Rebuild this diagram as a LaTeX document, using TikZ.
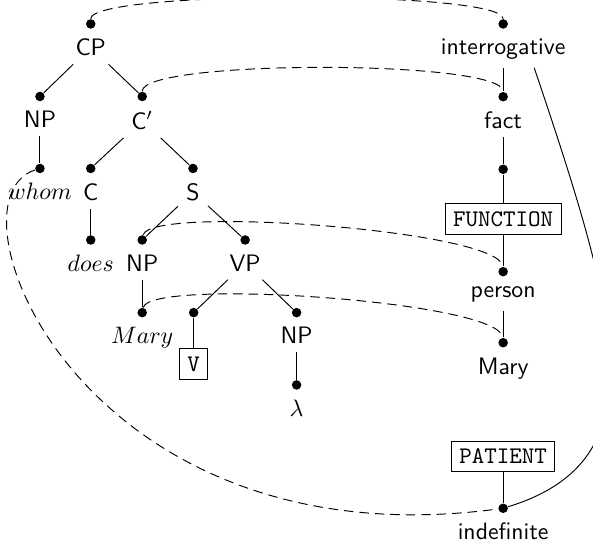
\documentclass[tikz,border=0pt]{standalone}
\usepackage{tikz}
\usetikzlibrary{arrows, positioning, shapes}

\begin{document}
\begin{tikzpicture}[
	-,
	thin,
	dot/.style={circle,fill,inner sep=0pt,minimum size=4pt},
	lab/.style={font=\sffamily},
	feat/.style={draw,font=\ttfamily},
	link/.style={dash pattern=on 4pt off 2.5pt}
]
\useasboundingbox (0,0) rectangle (8.757,-8.004);

% tree
\node[dot] (cp)    at (1.34,-0.354) {};
\node[dot] (np)    at (0.59,-1.425) {};
\node[dot] (cbar)  at (2.10,-1.425) {};
\node[dot] (whom)  at (0.59,-2.488) {};
\node[dot] (c)     at (1.34,-2.488) {};
\node[dot] (s)     at (2.85,-2.488) {};
\node[dot] (does)  at (1.34,-3.544) {};
\node[dot] (npsub) at (2.10,-3.544) {};
\node[dot] (vp)    at (3.62,-3.544) {};
\node[dot] (mary)  at (2.10,-4.617) {};
\node[dot] (vd)    at (2.86,-4.617) {};
\node[dot] (npobj) at (4.38,-4.617) {};
\node[dot] (lam)   at (4.38,-5.685) {};

\node[lab] (cpl)    [below=0.5pt of cp]    {CP};
\node[lab] (npl)    [below=0.5pt of np]    {NP};
\node[lab] (cbarl)  [below=0.5pt of cbar]  {C$'$};
\node[lab] (whoml)  [below=0.5pt of whom]  {$whom$};
\node[lab] (cl)     [below=0.5pt of c]     {C};
\node[lab] (sl)     [below=0.5pt of s]     {S};
\node[lab] (doesl)  [below=0.5pt of does]  {$does$};
\node[lab] (npsubl) [below=0.5pt of npsub] {NP};
\node[lab] (vpl)    [below=0.5pt of vp]    {VP};
\node[lab] (maryl)  [below=0.5pt of mary]  {$Mary$};
\node[lab] (npobjl) [below=0.5pt of npobj] {NP};
\node[lab] (laml)   [below=0.5pt of lam]   {$\lambda$};
\node[feat] (vbox)  [below=0.45cm of vd]   {V};

% meaning
\node[dot] (int)    at (7.43,-0.354) {};
\node[dot] (fact)   at (7.43,-1.428) {};
\node[dot] (fn)     at (7.43,-2.500) {};
\node[dot] (person) at (7.43,-4.012) {};
\node[dot] (mary2)  at (7.43,-5.061) {};
\node[dot] (indef)  at (7.43,-7.506) {};

\node[lab] (intl)    [below=0.5pt of int]    {interrogative};
\node[lab] (factl)   [below=0.5pt of fact]   {fact};
\node[lab] (personl) [below=0.5pt of person] {person};
\node[lab] (mary2l)  [below=0.5pt of mary2]  {Mary};
\node[lab] (indefl)  [below=0.5pt of indef]  {indefinite};
\node[feat] (fnbox)  at (7.43,-3.234) {FUNCTION};
\node[feat] (patbox) at (7.43,-6.739) {PATIENT};

\path (cpl)    edge (np) edge (cbar)
      (npl)    edge (whom)
      (cbarl)  edge (c) edge (s)
      (cl)     edge (does)
      (sl)     edge (npsub) edge (vp)
      (npsubl) edge (mary)
      (vpl)    edge (vd) edge (npobj)
      (vd)     edge (vbox)
      (npobjl) edge (lam);
\path (intl)    edge (fact)
      (factl)   edge (fn)
      (fn)      edge (fnbox)
      (fnbox)   edge (person)
      (personl) edge (mary2)
      (patbox)  edge (indef);

% links
\draw[link] (cp) .. controls +(0,0.5) and +(0,0.5) .. (int);
\draw[link] (cbar) .. controls +(0,0.55) and +(0,0.55) .. (fact);
\draw[link] (npsub) .. controls +(0.108,0.517) and +(-0.044,0.616) .. (person);
\draw[link] (mary) .. controls +(0.108,0.517) and +(-0.044,0.616) .. (mary2);
\draw[link] (whom) .. controls +(-1.477,-0.473) and +(-6.246,-0.837) .. (indef);
\draw (intl.-31) .. controls +(1.255,-3.721) and +(2.318,0.713) .. (indef);
\end{tikzpicture}
\end{document}
